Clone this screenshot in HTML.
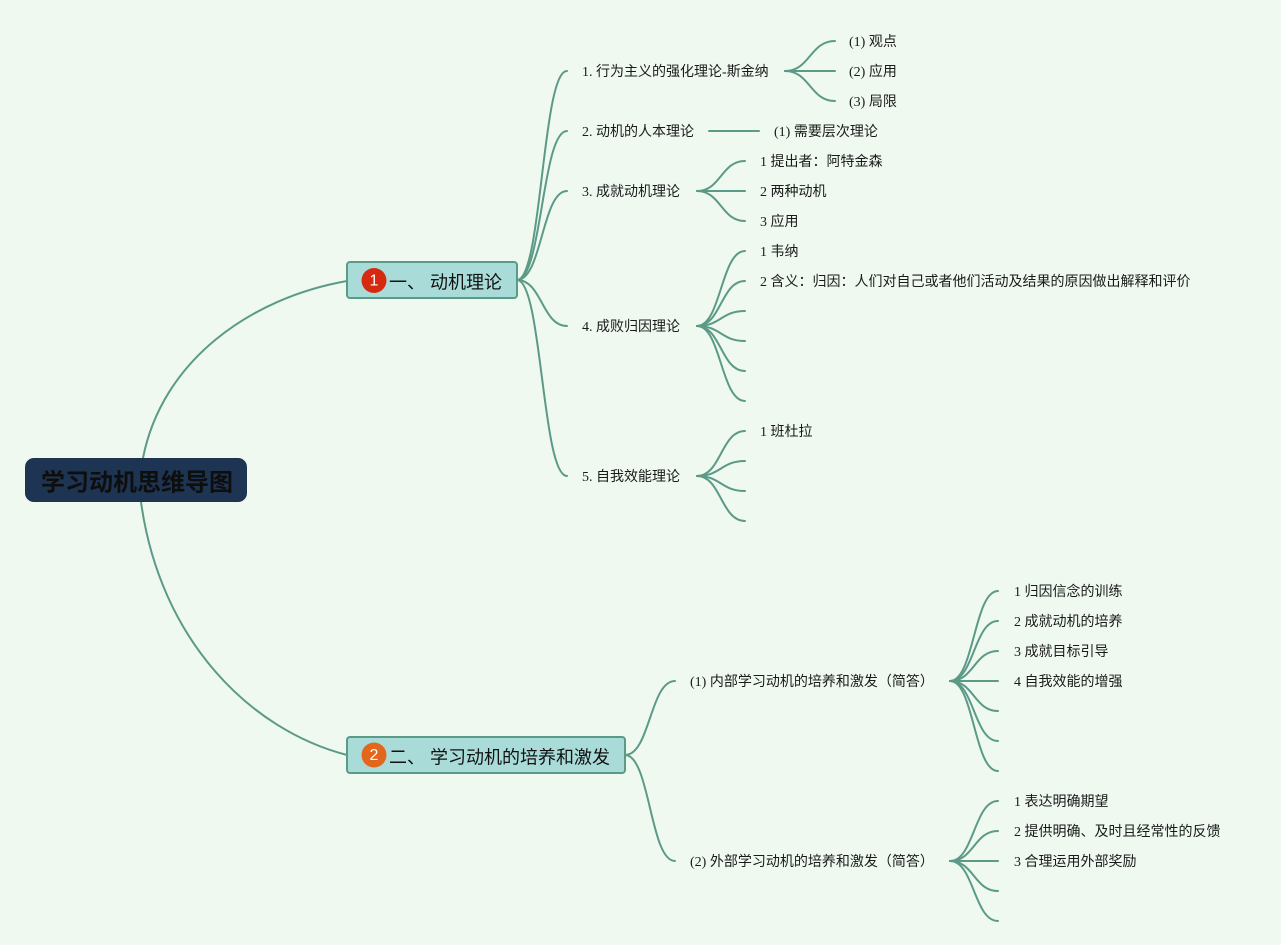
<!DOCTYPE html>
<html>
<head>
<meta charset="utf-8">
<style>
html,body{margin:0;padding:0;background:#eff9f0;}
svg{display:block;}
.t{font-family:"Liberation Serif","Noto Sans CJK SC",serif;font-size:14px;fill:#1a1a1a;}
.b{font-family:"Liberation Sans","Noto Sans CJK SC",sans-serif;font-size:18px;fill:#111;}
</style>
</head>
<body>
<svg width="1281" height="945" viewBox="0 0 1281 945" xmlns="http://www.w3.org/2000/svg">
<rect x="0" y="0" width="1281" height="945" fill="#eff9f0"/>
<g fill="none" stroke="#5c9a88" stroke-width="2" stroke-linecap="round">
<path d="M143,458 C162,361 250,298 347,281"/>
<path d="M141,502 C160,640 250,730 347,755"/>
<path d="M517,280 C542,280 542,71 567,71"/>
<path d="M517,280 C542,280 542,131 567,131"/>
<path d="M517,280 C542,280 542,191 567,191"/>
<path d="M517,280 C542,280 542,326 567,326"/>
<path d="M517,280 C542,280 542,476 567,476"/>
<path d="M785,71 C810,71 810,41 835,41"/>
<path d="M785,71 L835,71"/>
<path d="M785,71 C810,71 810,101 835,101"/>
<path d="M709,131 L759,131"/>
<path d="M697,191 C721,191 721,161 745,161"/>
<path d="M697,191 L745,191"/>
<path d="M697,191 C721,191 721,221 745,221"/>
<path d="M697,326 C721,326 721,251 745,251"/>
<path d="M697,326 C721,326 721,281 745,281"/>
<path d="M697,326 C721,326 721,311 745,311"/>
<path d="M697,326 C721,326 721,341 745,341"/>
<path d="M697,326 C721,326 721,371 745,371"/>
<path d="M697,326 C721,326 721,401 745,401"/>
<path d="M697,476 C721,476 721,431 745,431"/>
<path d="M697,476 C721,476 721,461 745,461"/>
<path d="M697,476 C721,476 721,491 745,491"/>
<path d="M697,476 C721,476 721,521 745,521"/>
<path d="M625,755 C650,755 650,681 675,681"/>
<path d="M625,755 C650,755 650,861 675,861"/>
<path d="M950,681 C974,681 974,591 998,591"/>
<path d="M950,681 C974,681 974,621 998,621"/>
<path d="M950,681 C974,681 974,651 998,651"/>
<path d="M950,681 L998,681"/>
<path d="M950,681 C974,681 974,711 998,711"/>
<path d="M950,681 C974,681 974,741 998,741"/>
<path d="M950,681 C974,681 974,771 998,771"/>
<path d="M950,861 C974,861 974,801 998,801"/>
<path d="M950,861 C974,861 974,831 998,831"/>
<path d="M950,861 L998,861"/>
<path d="M950,861 C974,861 974,891 998,891"/>
<path d="M950,861 C974,861 974,921 998,921"/>
</g>

<rect x="25" y="458" width="222" height="44" rx="9" ry="9" fill="#1d3453"/>
<text x="137" y="483" text-anchor="middle" dominant-baseline="central" font-family="'Liberation Sans','Noto Sans CJK SC',sans-serif" font-size="24" font-weight="bold" fill="#0e0e0e">学习动机思维导图</text>

<rect x="347" y="262" width="170" height="36" rx="3" ry="3" fill="#a9dcd9" stroke="#5c9a88" stroke-width="2"/>
<circle cx="374" cy="280.5" r="12.5" fill="#d62a10"/>
<text x="374" y="281" text-anchor="middle" dominant-baseline="central" font-family="'Liberation Sans',sans-serif" font-size="16" fill="#fff">1</text>
<text class="b" x="389" y="282.5" dominant-baseline="central">一、 动机理论</text>

<rect x="347" y="737" width="278" height="36" rx="3" ry="3" fill="#a9dcd9" stroke="#5c9a88" stroke-width="2"/>
<circle cx="374" cy="755" r="12.5" fill="#e2671c"/>
<text x="374" y="755.5" text-anchor="middle" dominant-baseline="central" font-family="'Liberation Sans',sans-serif" font-size="16" fill="#fff">2</text>
<text class="b" x="389" y="757.5" dominant-baseline="central">二、 学习动机的培养和激发</text>

<text class="t" x="582" y="72.5" dominant-baseline="central">1. 行为主义的强化理论-斯金纳</text>
<text class="t" x="582" y="132.5" dominant-baseline="central">2. 动机的人本理论</text>
<text class="t" x="582" y="192.5" dominant-baseline="central">3. 成就动机理论</text>
<text class="t" x="582" y="327.5" dominant-baseline="central">4. 成败归因理论</text>
<text class="t" x="582" y="477.5" dominant-baseline="central">5. 自我效能理论</text>

<text class="t" x="849" y="42.5" dominant-baseline="central">(1) 观点</text>
<text class="t" x="849" y="72.5" dominant-baseline="central">(2) 应用</text>
<text class="t" x="849" y="102.5" dominant-baseline="central">(3) 局限</text>
<text class="t" x="774" y="132.5" dominant-baseline="central">(1) 需要层次理论</text>
<text class="t" x="760" y="162.5" dominant-baseline="central">1 提出者：阿特金森</text>
<text class="t" x="760" y="192.5" dominant-baseline="central">2 两种动机</text>
<text class="t" x="760" y="222.5" dominant-baseline="central">3 应用</text>
<text class="t" x="760" y="252.5" dominant-baseline="central">1 韦纳</text>
<text class="t" x="760" y="282.5" dominant-baseline="central">2 含义：归因：人们对自己或者他们活动及结果的原因做出解释和评价</text>
<text class="t" x="760" y="432.5" dominant-baseline="central">1 班杜拉</text>

<text class="t" x="690" y="682.5" dominant-baseline="central">(1) 内部学习动机的培养和激发（简答）</text>
<text class="t" x="690" y="862.5" dominant-baseline="central">(2) 外部学习动机的培养和激发（简答）</text>

<text class="t" x="1014" y="592.5" dominant-baseline="central">1 归因信念的训练</text>
<text class="t" x="1014" y="622.5" dominant-baseline="central">2 成就动机的培养</text>
<text class="t" x="1014" y="652.5" dominant-baseline="central">3 成就目标引导</text>
<text class="t" x="1014" y="682.5" dominant-baseline="central">4 自我效能的增强</text>
<text class="t" x="1014" y="802.5" dominant-baseline="central">1 表达明确期望</text>
<text class="t" x="1014" y="832.5" dominant-baseline="central">2 提供明确、及时且经常性的反馈</text>
<text class="t" x="1014" y="862.5" dominant-baseline="central">3 合理运用外部奖励</text>
</svg>
</body>
</html>
